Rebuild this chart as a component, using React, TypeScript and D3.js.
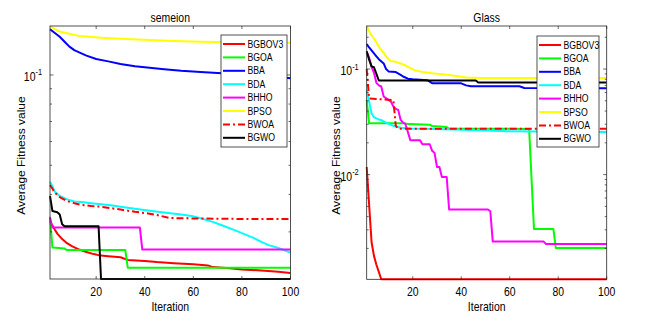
import React from 'react';
import * as d3 from 'd3';

type Pt = [number, number];

const seriesNames = ['BGBOV3', 'BGOA', 'BBA', 'BDA', 'BHHO', 'BPSO', 'BWOA', 'BGWO'];
const panelTitles = ['semeion', 'Glass'];
const xTickValues = [20, 40, 60, 80, 100];
const iterationExtent: [number, number] = [1, 100];
const xAxisLabel = 'Iteration';
const yAxisLabel = 'Average Fitness value';

// ---- semeion (iteration, value) ----
const semeionBGBOV3: Pt[] = [[1,0.0325],[2,0.0315],[3,0.0305],[4,0.0296],[5,0.0290],[6,0.0284],[8,0.0275],[10,0.0269],[13,0.0262],[16,0.0257],[19,0.0253],[21,0.0251],[25,0.0249],[30,0.0247],[33,0.0242],[40,0.0240],[45,0.0238],[52,0.0236],[60,0.0234],[66,0.0232],[68,0.0229],[75,0.0227],[80,0.0225],[88,0.0223],[95,0.0221],[100,0.0219]];
const semeionBGOA: Pt[] = [[1,0.0337],[2,0.0266],[7,0.0264],[8,0.0261],[32,0.0261],[33,0.0228],[100,0.0228]];
const semeionBBA: Pt[] = [[1,0.142],[3,0.138],[5,0.134],[7,0.129],[9,0.1243],[11,0.121],[13,0.119],[16,0.116],[20,0.113],[25,0.111],[30,0.1088],[36,0.107],[42,0.1057],[48,0.1045],[55,0.1033],[63,0.1023],[70,0.1015],[77,0.1008],[84,0.1],[90,0.0992],[95,0.0985],[98,0.0978],[100,0.0975]];
const semeionBDA: Pt[] = [[1,0.0441],[2,0.0425],[3,0.0408],[5,0.0395],[8,0.0385],[11,0.0379],[14,0.0377],[18,0.0374],[22,0.0371],[26,0.0368],[30,0.0364],[36,0.0358],[42,0.0353],[48,0.0348],[55,0.0343],[60,0.0338],[63,0.0333],[68,0.0324],[72,0.0315],[77,0.0304],[81,0.0295],[85,0.0286],[88,0.0278],[91,0.0271],[95,0.0265],[100,0.0256]];
const semeionBHHO: Pt[] = [[1,0.0335],[2,0.031],[38,0.031],[39,0.0262],[100,0.0262]];
const semeionBPSO: Pt[] = [[1,0.1456],[3,0.142],[5,0.1395],[8,0.1377],[11,0.136],[13,0.1349],[17,0.134],[22,0.1331],[30,0.132],[42,0.1308],[52,0.1298],[63,0.1291],[75,0.1286],[88,0.1283],[100,0.1281]];
const semeionBWOA: Pt[] = [[1,0.043],[2,0.0418],[3,0.0405],[5,0.0392],[8,0.038],[11,0.0374],[14,0.0369],[18,0.0366],[22,0.0364],[26,0.036],[30,0.0356],[36,0.035],[42,0.0345],[46,0.034],[50,0.0334],[55,0.0333],[70,0.0332],[85,0.0331],[100,0.0331]];
const semeionBGWO: Pt[] = [[1,0.0395],[2,0.0352],[4,0.0349],[5,0.0343],[6,0.0318],[7,0.0313],[21,0.0313],[22,0.0209],[100,0.0209]];

// ---- Glass (iteration, value) ----
const glassBGBOV3: Pt[] = [[1,0.0118],[2,0.0052],[3,0.0023],[4,0.0017],[5,0.0014],[6,0.0012],[7,0.00102],[100,0.00102]];
const glassBGOA: Pt[] = [[1,0.051],[2,0.0306],[17,0.0306],[18,0.0301],[27,0.0297],[28,0.0288],[34,0.0282],[35,0.0272],[68,0.0271],[70,0.00306],[78,0.00306],[79,0.00202],[100,0.00202]];
const glassBBA: Pt[] = [[1,0.1723],[2,0.16],[3,0.15],[5,0.132],[6,0.124],[8,0.113],[9,0.1],[10,0.095],[13,0.0935],[15,0.088],[16,0.085],[18,0.081],[20,0.08],[26,0.0785],[27,0.076],[28,0.0735],[40,0.0732],[42,0.07],[44,0.0686],[64,0.0686],[66,0.0662],[100,0.0659]];
const glassBDA: Pt[] = [[1,0.0635],[2,0.0491],[3,0.0381],[4,0.035],[5,0.0341],[6,0.0333],[7,0.0329],[9,0.0311],[12,0.029],[15,0.0278],[19,0.0274],[37,0.0268],[59,0.0258],[100,0.0253]];
const glassBHHO: Pt[] = [[1,0.145],[2,0.128],[3,0.105],[4,0.092],[5,0.074],[6,0.07],[7,0.0683],[8,0.055],[10,0.051],[11,0.0491],[12,0.044],[13,0.042],[14,0.041],[15,0.033],[16,0.0312],[17,0.03],[19,0.0212],[23,0.0212],[24,0.0194],[27,0.0194],[28,0.0168],[29,0.016],[30,0.0118],[31,0.0118],[32,0.0095],[34,0.0095],[35,0.00467],[51,0.00467],[52,0.0045],[53,0.00232],[74,0.00232],[75,0.0022],[100,0.0022]];
const glassBPSO: Pt[] = [[1,0.2556],[2,0.228],[3,0.208],[4,0.195],[5,0.178],[6,0.163],[7,0.152],[8,0.142],[9,0.132],[10,0.124],[11,0.119],[13,0.117],[15,0.113],[17,0.108],[19,0.102],[21,0.097],[24,0.094],[28,0.091],[33,0.089],[38,0.086],[42,0.083],[48,0.0822],[100,0.0821]];
const glassBWOA: Pt[] = [[1,0.1],[2,0.0527],[12,0.0508],[13,0.029],[14,0.0272],[100,0.0272]];
const glassBGWO: Pt[] = [[1,0.1471],[2,0.1226],[3,0.1059],[4,0.104],[5,0.09],[6,0.0779],[46,0.0779],[47,0.0746],[100,0.0746]];

const semeionSeries = [semeionBGBOV3, semeionBGOA, semeionBBA, semeionBDA, semeionBHHO, semeionBPSO, semeionBWOA, semeionBGWO];
const glassSeries = [glassBGBOV3, glassBGOA, glassBBA, glassBDA, glassBHHO, glassBPSO, glassBWOA, glassBGWO];

// ---- styles & layout ----
const seriesColors = ['#ff0000', '#00ff00', '#0000ff', '#00ffff', '#ff00ff', '#ffff00', '#ff0000', '#000000'];
const seriesDashes: (string | undefined)[] = [undefined, undefined, undefined, undefined, undefined, undefined, '7,3,2,3', undefined];

const panelBoxes = [
  { x0: 50, x1: 290.5, y0: 26, y1: 279, yLabelX: 24.5 },
  { x0: 366.7, x1: 606.7, y0: 26, y1: 279.3, yLabelX: 339.5 },
];
const legendBoxes = [
  { x: 221, y: 35, w: 66, h: 112 },
  { x: 537, y: 36, w: 62, h: 111 },
];

const FONT = '"Liberation Sans", Arial, Helvetica, sans-serif';
const SX = 0.87;
const AXIS = '#262626';

function Txt(props: { x: number; y: number; size: number; anchor?: string; rotate?: boolean; children: any }) {
  const { x, y, size, anchor = 'middle', rotate = false, children } = props;
  const t = rotate
    ? `translate(${x},${y}) scale(${SX},1) rotate(-90)`
    : `translate(${x},${y}) scale(${SX},1)`;
  return (
    <text transform={t} fontSize={size} textAnchor={anchor} fontFamily={FONT} fill="#000">
      {children}
    </text>
  );
}

function Panel(props: { title: string; series: Pt[][]; box: any; legend: any }) {
  const { title, series, box, legend } = props;
  const x = d3.scaleLinear().domain(iterationExtent).range([box.x0, box.x1]);
  const all = series.flat();
  const yMin = d3.min(all, (d) => d[1]) as number;
  const yMax = d3.max(all, (d) => d[1]) as number;
  const y = d3.scaleLog().domain([yMin, yMax]).range([box.y1, box.y0]);
  const line = d3.line<Pt>().x((d) => x(d[0])).y((d) => y(d[1]));

  const yTicks: { v: number; major: boolean; e: number }[] = [];
  for (let e = Math.floor(Math.log10(yMin)); e <= Math.ceil(Math.log10(yMax)); e++) {
    for (let k = 1; k <= 9; k++) {
      const v = k * Math.pow(10, e);
      if (v >= yMin * 0.9999 && v <= yMax * 1.0001) yTicks.push({ v, major: k === 1, e });
    }
  }
  const cx = (box.x0 + box.x1) / 2;
  const rowH = 13.4;

  return (
    <g>
      {series.map((s, i) => (
        <path
          key={i}
          d={line(s) || ''}
          fill="none"
          stroke={seriesColors[i]}
          strokeWidth={2}
          strokeDasharray={seriesDashes[i]}
          strokeLinejoin="round"
        />
      ))}
      <rect x={box.x0} y={box.y0} width={box.x1 - box.x0} height={box.y1 - box.y0} fill="none" stroke={AXIS} strokeWidth={0.8} />
      {xTickValues.map((t) => (
        <g key={t}>
          <line x1={x(t)} x2={x(t)} y1={box.y1} y2={box.y1 - 3} stroke={AXIS} strokeWidth={0.7} />
          <line x1={x(t)} x2={x(t)} y1={box.y0} y2={box.y0 + 3} stroke={AXIS} strokeWidth={0.7} />
          <Txt x={x(t)} y={296} size={12}>{String(t)}</Txt>
        </g>
      ))}
      {yTicks.map((t, i) => {
        const len = t.major ? 3.5 : 2;
        return (
          <g key={i}>
            <line x1={box.x0} x2={box.x0 + len} y1={y(t.v)} y2={y(t.v)} stroke={AXIS} strokeWidth={0.7} />
            <line x1={box.x1} x2={box.x1 - len} y1={y(t.v)} y2={y(t.v)} stroke={AXIS} strokeWidth={0.7} />
            {t.major && (
              <text
                transform={`translate(${box.x0 - 8},${y(t.v) + 6}) scale(${SX},1)`}
                fontSize={12}
                textAnchor="end"
                fontFamily={FONT}
                fill="#000"
              >
                <tspan>10</tspan>
                <tspan dy={-5.5} fontSize={8.5}>{String(t.e)}</tspan>
              </text>
            )}
          </g>
        );
      })}
      <Txt x={cx} y={21.5} size={12}>{title}</Txt>
      <Txt x={cx} y={311} size={12}>{xAxisLabel}</Txt>
      <Txt x={box.yLabelX} y={155.5} size={12} rotate>{yAxisLabel}</Txt>

      <rect x={legend.x} y={legend.y} width={legend.w} height={legend.h} fill="#fff" stroke={AXIS} strokeWidth={0.8} />
      {seriesNames.map((n, i) => {
        const ry = legend.y + 9 + i * rowH;
        return (
          <g key={n}>
            <line
              x1={legend.x + 2}
              x2={legend.x + 24}
              y1={ry}
              y2={ry}
              stroke={seriesColors[i]}
              strokeWidth={2}
              strokeDasharray={seriesDashes[i]}
            />
            <Txt x={legend.x + 26.5} y={ry + 3.6} size={10} anchor="start">{n}</Txt>
          </g>
        );
      })}
    </g>
  );
}

export default function App() {
  return (
    <svg
      width={653}
      height={324}
      style={{ position: 'absolute', left: 0, top: 0, background: '#fff' }}
    >
      <rect x={0} y={0} width={653} height={324} fill="#fff" />
      <Panel title={panelTitles[0]} series={semeionSeries} box={panelBoxes[0]} legend={legendBoxes[0]} />
      <Panel title={panelTitles[1]} series={glassSeries} box={panelBoxes[1]} legend={legendBoxes[1]} />
    </svg>
  );
}
